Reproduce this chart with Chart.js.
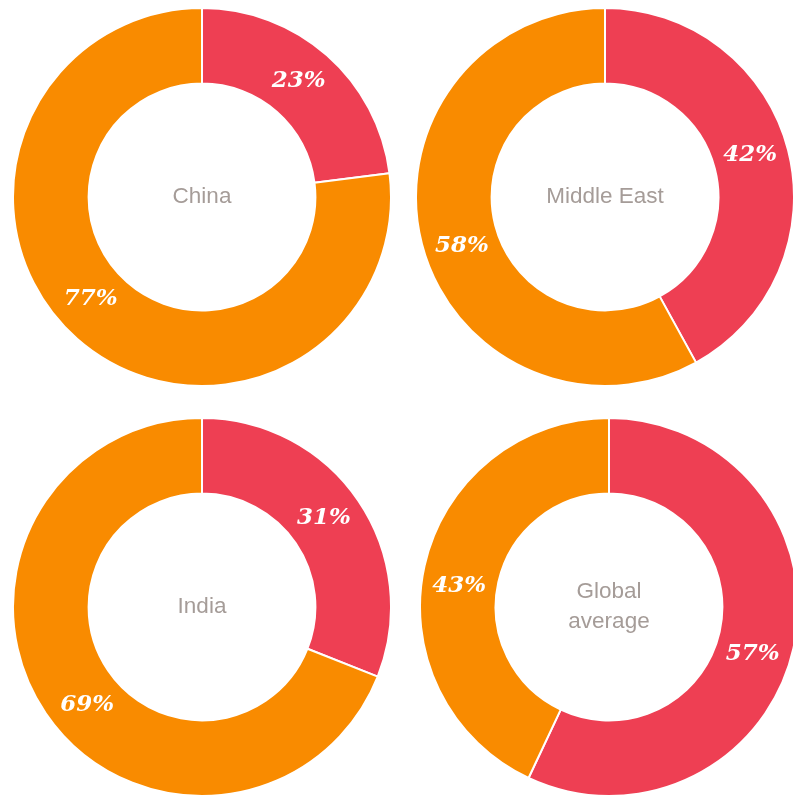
<!DOCTYPE html>
<html>
<head>
<meta charset="utf-8">
<script src="https://cdn.jsdelivr.net/npm/chart.js@4"></script>
<style>
  html, body { margin: 0; padding: 0; background: #fff; }
  body { width: 793px; height: 797px; overflow: hidden; position: relative; }
  .donut { position: absolute; width: 380px; height: 380px; }
</style>
</head>
<body>
<div class="donut" style="left:12px;top:7px"><canvas id="c0"></canvas></div>
<div class="donut" style="left:415px;top:7px"><canvas id="c1"></canvas></div>
<div class="donut" style="left:12px;top:417px"><canvas id="c2"></canvas></div>
<div class="donut" style="left:419px;top:417px"><canvas id="c3"></canvas></div>
<script>
// data
const regions = ['China', 'Middle East', 'India', 'Global average'];
const centerLines = [['China'], ['Middle East'], ['India'], ['Global', 'average']];
const redShare = [23, 42, 31, 57];
const orangeShare = [77, 58, 69, 43];

const RED = '#ee3f53';
const ORANGE = '#f98b00';

// small angle tweaks (degrees, [red, orange]) so labels sit where the original put them
const labelNudge = [[-1.7, 6], [-1.9, -4.4], [-2, -6.4], [5.6, -4.6]];

// white percentage labels in the middle of each arc
const arcLabels = {
    id: 'arcLabels',
    afterDatasetsDraw(chart, args, opts) {
        const ctx = chart.ctx;
        const meta = chart.getDatasetMeta(0);
        const values = chart.data.datasets[0].data;
        const nudge = opts.nudge || [];
        ctx.save();
        ctx.fillStyle = '#fff';
        ctx.font = 'italic bold 23px "DejaVu Serif", serif';
        ctx.textAlign = 'center';
        ctx.textBaseline = 'middle';
        meta.data.forEach((arc, i) => {
            const a = (arc.startAngle + arc.endAngle) / 2 + (nudge[i] || 0) * Math.PI / 180;
            const r = (arc.innerRadius + arc.outerRadius) / 2;
            ctx.fillText(values[i] + '%', arc.x + r * Math.cos(a), arc.y + r * Math.sin(a));
        });
        ctx.restore();
    }
};

// region name in the hole
const centerText = {
    id: 'centerText',
    afterDraw(chart, args, opts) {
        const ctx = chart.ctx;
        const arc = chart.getDatasetMeta(0).data[0];
        const lines = opts.lines || [];
        const lh = 30;
        ctx.save();
        ctx.fillStyle = '#a59c98';
        ctx.font = '22.5px "Liberation Sans", Arial, sans-serif';
        ctx.textAlign = 'center';
        ctx.textBaseline = 'middle';
        const y0 = arc.y - (lines.length - 1) * lh / 2;
        lines.forEach((t, i) => ctx.fillText(t, arc.x, y0 + i * lh));
        ctx.restore();
    }
};

regions.forEach((name, i) => {
    new Chart(document.getElementById('c' + i), {
        type: 'doughnut',
        data: {
            labels: ['red', 'orange'],
            datasets: [{
                data: [redShare[i], orangeShare[i]],
                backgroundColor: [RED, ORANGE],
                borderColor: '#fff',
                borderWidth: 2
            }]
        },
        options: {
            responsive: true,
            maintainAspectRatio: false,
            animation: false,
            cutout: '60%',
            plugins: {
                legend: { display: false },
                tooltip: { enabled: false },
                arcLabels: { nudge: labelNudge[i] },
                centerText: { lines: centerLines[i] }
            }
        },
        plugins: [arcLabels, centerText]
    });
});
</script>
</body>
</html>
